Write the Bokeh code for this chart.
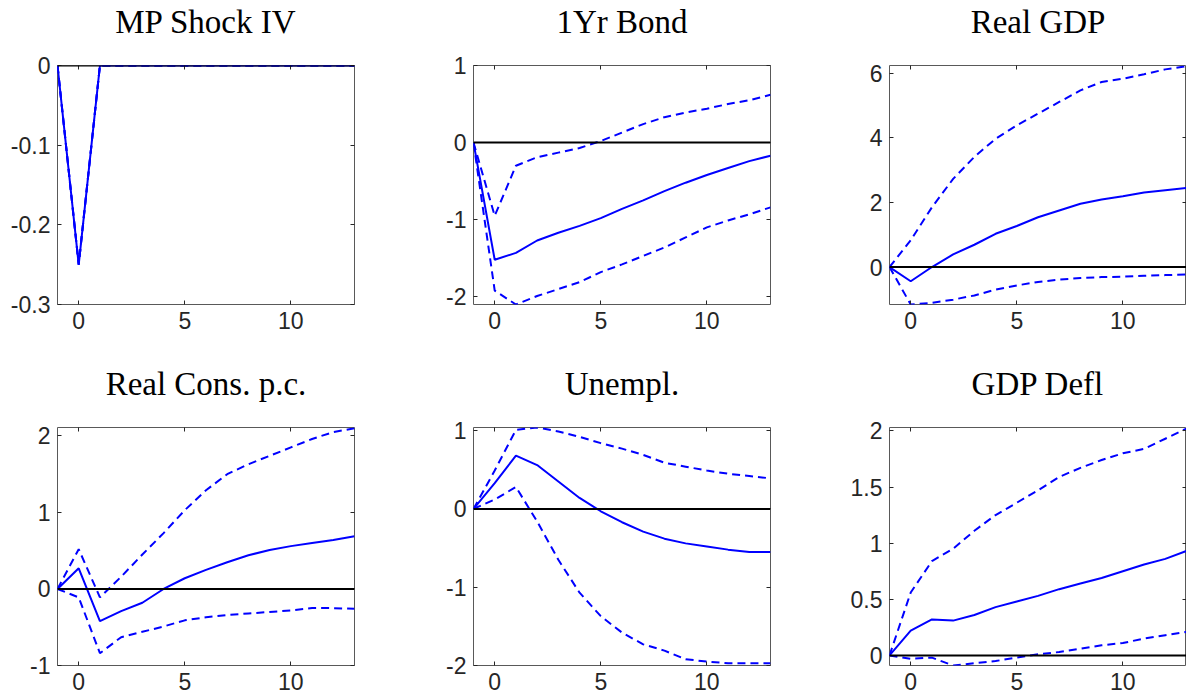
from bokeh.plotting import figure
from bokeh.layouts import column, row
from bokeh.models import Span, LinearAxis, FixedTicker, Range1d
from bokeh.embed import file_html
from bokeh.resources import INLINE

# ---------------- data ----------------
steps = list(range(-1, 14))

titles = ["MP Shock IV", "1Yr Bond", "Real GDP", "Real Cons. p.c.", "Unempl.", "GDP Defl"]

mp_mid = [0, -0.25, 0, 0, 0, 0, 0, 0, 0, 0, 0, 0, 0, 0, 0]
mp_lo = [0, -0.25, 0, 0, 0, 0, 0, 0, 0, 0, 0, 0, 0, 0, 0]
mp_hi = [0, -0.25, 0, 0, 0, 0, 0, 0, 0, 0, 0, 0, 0, 0, 0]

bond_mid = [0, -1.52, -1.43, -1.27, -1.17, -1.08, -0.98, -0.86, -0.75, -0.63, -0.52, -0.42, -0.33, -0.24, -0.17]
bond_hi = [0, -0.95, -0.30, -0.19, -0.13, -0.07, 0.02, 0.13, 0.24, 0.33, 0.39, 0.44, 0.50, 0.55, 0.62]
bond_lo = [0, -1.92, -2.10, -1.99, -1.90, -1.81, -1.68, -1.58, -1.47, -1.36, -1.23, -1.10, -1.01, -0.93, -0.84]

gdp_mid = [0, -0.44, 0.0, 0.39, 0.69, 1.03, 1.27, 1.54, 1.75, 1.96, 2.09, 2.19, 2.31, 2.38, 2.45]
gdp_hi = [0, 0.83, 1.85, 2.73, 3.41, 3.97, 4.39, 4.75, 5.11, 5.47, 5.73, 5.83, 5.97, 6.12, 6.22]
gdp_lo = [0, -1.16, -1.11, -1.01, -0.88, -0.70, -0.57, -0.46, -0.39, -0.34, -0.31, -0.30, -0.27, -0.25, -0.23]

cons_mid = [0, 0.27, -0.42, -0.29, -0.18, 0.0, 0.14, 0.25, 0.35, 0.44, 0.51, 0.56, 0.60, 0.64, 0.69]
cons_hi = [0, 0.52, -0.11, 0.16, 0.45, 0.73, 1.03, 1.29, 1.50, 1.63, 1.74, 1.85, 1.96, 2.05, 2.10]
cons_lo = [0, -0.11, -0.84, -0.63, -0.56, -0.49, -0.41, -0.37, -0.34, -0.32, -0.30, -0.28, -0.25, -0.25, -0.26]

unemp_mid = [0, 0.33, 0.68, 0.56, 0.35, 0.14, -0.03, -0.17, -0.29, -0.38, -0.44, -0.48, -0.52, -0.55, -0.55]
unemp_hi = [0, 0.49, 1.01, 1.04, 0.99, 0.92, 0.84, 0.77, 0.69, 0.59, 0.54, 0.49, 0.45, 0.42, 0.39]
unemp_lo = [0, 0.12, 0.28, -0.16, -0.65, -1.07, -1.37, -1.58, -1.73, -1.81, -1.92, -1.95, -1.97, -1.97, -1.97]

defl_mid = [0, 0.22, 0.32, 0.31, 0.36, 0.43, 0.48, 0.53, 0.59, 0.64, 0.69, 0.75, 0.81, 0.86, 0.93]
defl_hi = [0, 0.56, 0.84, 0.95, 1.11, 1.25, 1.36, 1.47, 1.59, 1.67, 1.74, 1.80, 1.84, 1.93, 2.02]
defl_lo = [0, -0.03, -0.02, -0.09, -0.07, -0.05, -0.02, 0.01, 0.03, 0.06, 0.09, 0.11, 0.15, 0.18, 0.21]

series = [
    (mp_mid, mp_lo, mp_hi),
    (bond_mid, bond_lo, bond_hi),
    (gdp_mid, gdp_lo, gdp_hi),
    (cons_mid, cons_lo, cons_hi),
    (unemp_mid, unemp_lo, unemp_hi),
    (defl_mid, defl_lo, defl_hi),
]

y_limits = [(-0.3, 0.0), (-2.1, 1.0), (-1.16, 6.24), (-1.0, 2.11), (-2.0, 1.04), (-0.09, 2.03)]
y_ticks = [
    [-0.3, -0.2, -0.1, 0],
    [-2, -1, 0, 1],
    [0, 2, 4, 6],
    [-1, 0, 1, 2],
    [-2, -1, 0, 1],
    [0, 0.5, 1, 1.5, 2],
]
y_tick_labels = [
    ["-0.3", "-0.2", "-0.1", "0"],
    ["-2", "-1", "0", "1"],
    ["0", "2", "4", "6"],
    ["-1", "0", "1", "2"],
    ["-2", "-1", "0", "1"],
    ["0", "0.5", "1", "1.5", "2"],
]
x_limits = (-1, 13)
x_ticks = [0, 5, 10]
x_tick_labels = ["0", "5", "10"]

# ---------------- layout ----------------
FRAME_W = 297
frame_heights = [239, 238]
B_LEFT = 57
B_TOP = 65
TITLE_GAP = 26
col_widths = [416, 416, 354]
row_heights = [362, 336]

BLUE = "#0000ff"
AX = "#262626"
BOX = "#595959"
TICK_FONT = "Liberation Sans"
TICK_SIZE = "23px"
TITLE_FONT = "Liberation Serif"
TITLE_SIZE = "33px"


def make_panel(i):
    r, c = divmod(i, 3)
    W = col_widths[c]
    H = row_heights[r]
    FH = frame_heights[r]
    p = figure(
        width=W, height=H,
        x_range=Range1d(*x_limits), y_range=Range1d(*y_limits[i]),
        output_backend="svg", toolbar_location=None,
        min_border_left=B_LEFT, min_border_right=W - B_LEFT - FRAME_W,
        min_border_top=B_TOP, min_border_bottom=H - B_TOP - FH,
        background_fill_color="white", border_fill_color="white",
    )
    p.title.text = titles[i]
    p.title.align = "center"
    p.title.text_font = TITLE_FONT
    p.title.text_font_size = TITLE_SIZE
    p.title.text_font_style = "normal"
    p.title.text_color = "black"
    p.title.standoff = 0

    p.xgrid.visible = False
    p.ygrid.visible = False
    p.outline_line_color = BOX
    p.outline_line_width = 1

    mid, lo, hi = series[i]
    p.line(steps, hi, line_color=BLUE, line_width=2, line_dash="8 5")
    p.line(steps, lo, line_color=BLUE, line_width=2, line_dash="8 5")
    p.line(steps, mid, line_color=BLUE, line_width=2)

    p.add_layout(Span(location=0, dimension="width", line_color="black", line_width=2))

    xa = p.xaxis[0]
    ya = p.yaxis[0]
    xa.ticker = FixedTicker(ticks=x_ticks)
    ya.ticker = FixedTicker(ticks=y_ticks[i])
    xa.major_label_overrides = {t: s for t, s in zip(x_ticks, x_tick_labels)}
    ya.major_label_overrides = {t: s for t, s in zip(y_ticks[i], y_tick_labels[i])}
    for ax in (xa, ya):
        ax.axis_line_color = None
        ax.major_tick_in = 4
        ax.major_tick_out = 0
        ax.major_tick_line_color = AX
        ax.minor_tick_line_color = None
        ax.major_label_text_font = TICK_FONT
        ax.major_label_text_font_size = TICK_SIZE
        ax.major_label_text_color = AX
    xa.major_label_standoff = 7
    ya.major_label_standoff = 7

    # mirrored ticks on the top and right edges (box on)
    ra = LinearAxis(ticker=FixedTicker(ticks=y_ticks[i]))
    ta = LinearAxis(ticker=FixedTicker(ticks=x_ticks))
    for ax in (ra, ta):
        ax.axis_line_color = None
        ax.major_tick_in = 4
        ax.major_tick_out = 0
        ax.major_tick_line_color = AX
        ax.minor_tick_line_color = None
        ax.major_label_text_font_size = "0px"
        ax.major_label_standoff = 0
    ra.major_label_overrides = {t: "" for t in y_ticks[i]}
    ta.major_label_overrides = {t: "" for t in x_ticks}
    p.add_layout(ra, "right")
    p.add_layout(ta, "above")

    # invisible spacer between the frame and the title
    spacer = LinearAxis(ticker=FixedTicker(ticks=x_ticks))
    spacer.axis_line_color = None
    spacer.major_tick_in = 0
    spacer.major_tick_out = TITLE_GAP
    spacer.major_tick_line_color = None
    spacer.minor_tick_line_color = None
    spacer.major_label_text_font_size = "0px"
    spacer.major_label_standoff = 0
    spacer.major_label_overrides = {t: "" for t in x_ticks}
    p.add_layout(spacer, "above")
    return p


panels = [make_panel(i) for i in range(6)]
layout = column(row(*panels[:3], spacing=0), row(*panels[3:], spacing=0), spacing=0)

open("out.html", "w").write(file_html(layout, INLINE))
